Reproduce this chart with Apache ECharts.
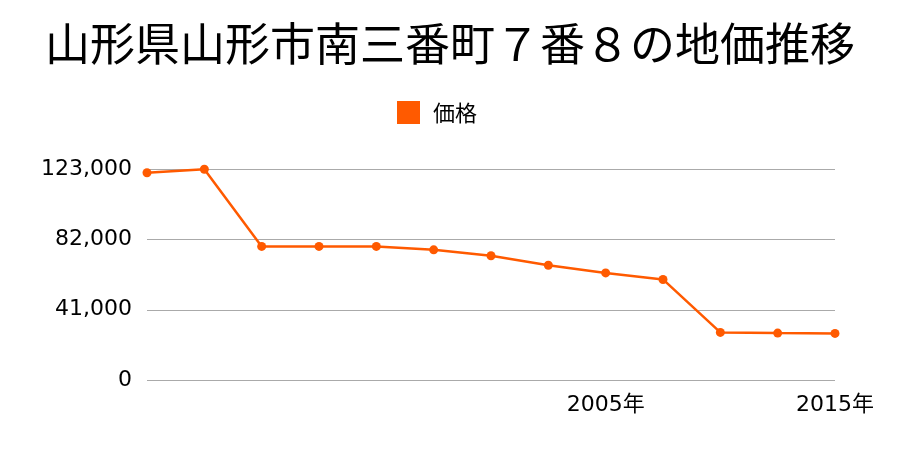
<!DOCTYPE html>
<html><head><meta charset="utf-8">
<script src="https://cdn.jsdelivr.net/npm/echarts@6/dist/echarts.min.js"></script>
<style>html,body{margin:0;padding:0;background:#fff}#c{width:900px;height:450px}</style>
</head><body><div id="c"></div>
<script>
const titleText = '山形県山形市南三番町７番８の地価推移';
const seriesName = '価格';
const categories = ['1997年','1998年','1999年','2000年','2001年','2002年','2003年','2004年','2005年','2006年','2013年','2014年','2015年'];
const values = [121000,123000,78000,78000,78000,76000,72500,67000,62500,58700,27800,27400,27200];
const shownLabels = ['2005年','2015年'];
const yTicks = [0,41000,82000,123000];

const labelFont = "'DejaVu Sans','Noto Sans CJK JP',sans-serif";
const chart = echarts.init(document.getElementById('c'));
chart.setOption({
  animation:false,
  title:{text:titleText,left:'center',top:16,textStyle:{fontFamily:'Noto Sans CJK JP',fontSize:45,fontWeight:'normal',color:'#000'}},
  legend:{data:[seriesName],top:96,left:392,itemWidth:23,itemHeight:23,icon:'rect',
    textStyle:{fontFamily:'Noto Sans CJK JP',fontSize:22,color:'#000',padding:[0,0,0,8]}},
  grid:{left:147,right:65,top:169.3,bottom:70},
  xAxis:{type:'category',data:categories,boundaryGap:false,
    axisLine:{show:false},axisTick:{show:false},
    axisLabel:{interval:0,margin:14,fontFamily:labelFont,fontSize:22,color:'#000',
      formatter:v=>shownLabels.includes(v)?v:''}},
  yAxis:{type:'value',min:yTicks[0],max:yTicks[yTicks.length-1],interval:yTicks[1]-yTicks[0],
    axisLine:{show:false},axisTick:{show:false},
    splitLine:{lineStyle:{color:'#aaaaaa',width:1}},
    axisLabel:{margin:15,fontFamily:labelFont,fontSize:22,color:'#000',
      formatter:v=>v.toLocaleString('en-US')}},
  series:[{name:seriesName,type:'line',data:values,color:'#ff5a00',
    symbol:'circle',symbolSize:9,lineStyle:{width:2.5,color:'#ff5a00'},itemStyle:{color:'#ff5a00'}}]
});
</script></body></html>
